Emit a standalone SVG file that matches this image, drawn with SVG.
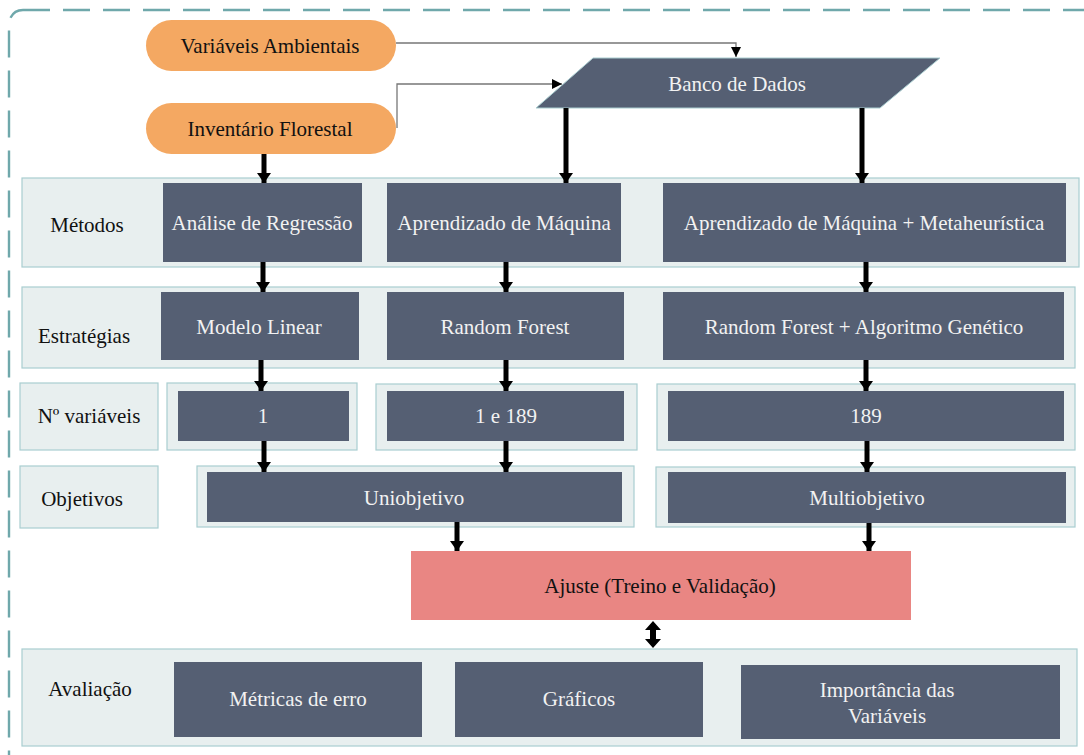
<svg xmlns="http://www.w3.org/2000/svg" width="1084" height="755" viewBox="0 0 1084 755">
<defs>
<style>
text{text-anchor:middle;dominant-baseline:central;font-size:21px}
.w{fill:#f2f2f2}
.k{fill:#111}
.box{fill:#555f73}
.band{fill:#e8efef;stroke:#a9cdd0;stroke-width:1.2}
.pill{fill:#f4a862}
.thin{fill:none;stroke:#777;stroke-width:1.3}
.thick{stroke:#000;stroke-width:5;fill:none}
</style>
<marker id="ah" viewBox="0 0 10 10" refX="10" refY="5" markerWidth="10" markerHeight="10" markerUnits="userSpaceOnUse" orient="auto"><path d="M0,0L10,5L0,10z" fill="#000"/></marker>
<marker id="big" viewBox="0 0 10 14" refX="10" refY="7" markerWidth="10" markerHeight="14" markerUnits="userSpaceOnUse" orient="auto"><path d="M0,0L10,7L0,14z" fill="#000"/></marker>
</defs>
<rect x="9" y="10" width="1100" height="780" rx="14" fill="none" stroke="#6fa8ab" stroke-width="2.4" stroke-dasharray="27,13"/>

<g id="bands">
<rect class="band" x="22" y="178" width="1057" height="89"/>
<rect class="band" x="22" y="287" width="1053" height="81"/>
<rect class="band" x="20" y="383" width="138" height="67"/>
<rect class="band" x="167" y="383" width="190" height="67"/>
<rect class="band" x="376" y="384" width="261" height="66"/>
<rect class="band" x="657" y="384" width="418" height="66"/>
<rect class="band" x="20" y="466" width="138" height="62"/>
<rect class="band" x="197" y="466" width="437" height="61"/>
<rect class="band" x="656" y="467" width="419" height="60"/>
<rect class="band" x="22" y="649" width="1055" height="97"/>
</g>

<g id="labels">
<text font-family="Liberation Serif" class="k" x="87" y="225">Métodos</text>
<text font-family="Liberation Serif" class="k" x="84" y="336">Estratégias</text>
<text font-family="Liberation Serif" class="k" x="89" y="416">Nº variáveis</text>
<text font-family="Liberation Serif" class="k" x="82" y="499">Objetivos</text>
<text font-family="Liberation Serif" class="k" x="90" y="689">Avaliação</text>
</g>

<g id="variaveis-ambientais"><rect class="pill" x="146" y="20" width="250" height="51" rx="25.5"/><text font-family="Liberation Serif" class="k" x="270" y="46">Variáveis  Ambientais</text></g>
<g id="inventario-florestal"><rect class="pill" x="146" y="103" width="250" height="51" rx="25.5"/><text font-family="Liberation Serif" class="k" x="270" y="129">Inventário Florestal</text></g>
<g id="banco-de-dados"><path d="M593,58L940,58L880,108L536,108z" fill="#555f73" stroke="#a9cdd0" stroke-width="1"/><text font-family="Liberation Serif" class="w" x="737" y="84">Banco de Dados</text></g>

<g id="analise"><rect class="box" x="163" y="183" width="199" height="79"/><text font-family="Liberation Serif" class="w" x="262" y="223">Análise  de Regressão</text></g>
<g id="aprendizado"><rect class="box" x="387" y="183" width="234" height="79"/><text font-family="Liberation Serif" class="w" x="504" y="223">Aprendizado de Máquina</text></g>
<g id="aprendizado-meta"><rect class="box" x="663" y="183" width="403" height="79"/><text font-family="Liberation Serif" class="w" x="864" y="223">Aprendizado de Máquina + Metaheurística</text></g>

<g id="modelo-linear"><rect class="box" x="161" y="292" width="198" height="68"/><text font-family="Liberation Serif" class="w" x="259" y="327">Modelo Linear</text></g>
<g id="random-forest"><rect class="box" x="387" y="292" width="237" height="68"/><text font-family="Liberation Serif" class="w" x="505" y="327">Random Forest</text></g>
<g id="rf-ag"><rect class="box" x="663" y="292" width="401" height="68"/><text font-family="Liberation Serif" class="w" x="864" y="327">Random Forest + Algoritmo  Genético</text></g>

<g id="var-1"><rect class="box" x="178" y="391" width="171" height="50"/><text font-family="Liberation Serif" class="w" x="263" y="416">1</text></g>
<g id="var-1e189"><rect class="box" x="387" y="391" width="237" height="50"/><text font-family="Liberation Serif" class="w" x="506" y="416">1 e 189</text></g>
<g id="var-189"><rect class="box" x="668" y="391" width="396" height="50"/><text font-family="Liberation Serif" class="w" x="866" y="416">189</text></g>

<g id="uniobjetivo"><rect class="box" x="207" y="472" width="415" height="50"/><text font-family="Liberation Serif" class="w" x="414" y="498">Uniobjetivo</text></g>
<g id="multiobjetivo"><rect class="box" x="668" y="472" width="398" height="51"/><text font-family="Liberation Serif" class="w" x="867" y="498">Multiobjetivo</text></g>

<g id="ajuste"><rect x="411" y="551" width="500" height="69" fill="#e98683"/><text font-family="Liberation Serif" class="k" x="660" y="586">Ajuste (Treino  e Validação)</text></g>

<g id="metricas"><rect class="box" x="174" y="662" width="248" height="75"/><text font-family="Liberation Serif" class="w" x="298" y="699">Métricas  de erro</text></g>
<g id="graficos"><rect class="box" x="455" y="662" width="248" height="75"/><text font-family="Liberation Serif" class="w" x="579" y="699">Gráficos</text></g>
<g id="importancia"><rect class="box" x="741" y="665" width="319" height="74"/><text font-family="Liberation Serif" class="w" x="887" y="690">Importância das</text><text font-family="Liberation Serif" class="w" x="887" y="716">Variáveis</text></g>

<g id="connectors">
<path class="thin" d="M396,43H736V57" marker-end="url(#ah)"/>
<path class="thin" d="M397,128V84H562" marker-end="url(#ah)"/>
<path class="thick" d="M566,108V183" marker-end="url(#big)"/>
<path class="thick" d="M862,108V183" marker-end="url(#big)"/>
<path class="thick" d="M264,154V183" marker-end="url(#big)"/>
<path class="thick" d="M263,262V292" marker-end="url(#big)"/>
<path class="thick" d="M506,262V292" marker-end="url(#big)"/>
<path class="thick" d="M866,262V292" marker-end="url(#big)"/>
<path class="thick" d="M261,360V391" marker-end="url(#big)"/>
<path class="thick" d="M506,360V391" marker-end="url(#big)"/>
<path class="thick" d="M866,360V391" marker-end="url(#big)"/>
<path class="thick" d="M264,441V472" marker-end="url(#big)"/>
<path class="thick" d="M506,441V472" marker-end="url(#big)"/>
<path class="thick" d="M867,441V472" marker-end="url(#big)"/>
<path class="thick" d="M457,522V551" marker-end="url(#big)"/>
<path class="thick" d="M869,523V551" marker-end="url(#big)"/>
<path d="M650,628H656V641H650z" fill="#000"/>
<path d="M645,630L653,621L661,630z M645,639L653,648L661,639z" fill="#000"/>
</g>
</svg>
